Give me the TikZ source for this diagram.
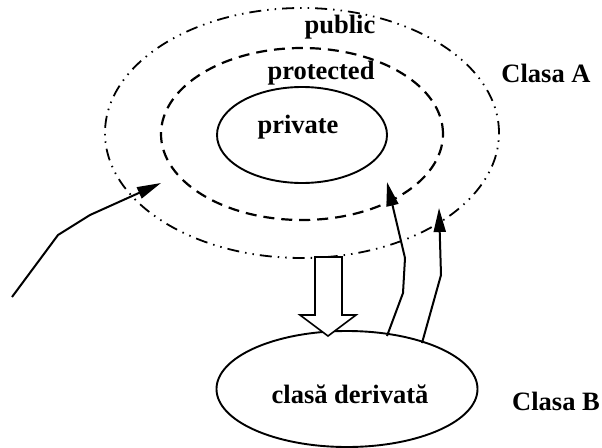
\documentclass[tikz,border=0pt]{standalone}
\usepackage{fontspec}
\setmainfont{Liberation Serif}
\usetikzlibrary{arrows.meta,shapes.geometric}
\begin{document}
\begin{tikzpicture}[x=1pt,y=-1pt,
  lbl/.style={font=\fontsize{26.5}{29}\selectfont\bfseries, inner sep=0pt},
  ring/.style={draw, ellipse, inner sep=0pt},
  outerring/.style={ring, line width=1.8pt, dash pattern=on 12pt off 6pt on 1.5pt off 6pt on 1.5pt off 6pt},
  midring/.style={ring, line width=2.2pt, dash pattern=on 11pt off 7pt},
  solidring/.style={ring, line width=1.9pt},
  link/.style={line width=2pt, -{Triangle[length=24pt,width=12pt]}},
]
\useasboundingbox (0,0) rectangle (602,447);
\node[outerring, minimum width=394pt, minimum height=250pt] (outer) at (302,133) {};
\node[midring, minimum width=282pt, minimum height=172pt] (mid) at (302,134) {};
\node[solidring, minimum width=170pt, minimum height=96pt] (inner) at (302,135) {};
\node[solidring, minimum width=261pt, minimum height=116pt] (der) at (347,389) {};

\node[lbl] (pub) at (340,27) {public};
\node[lbl] (prot) at (321,73) {protected};
\node[lbl] (priv) at (298,127) {private};
\node[lbl] (ca) at (546,73) {Clasa A};
\node[lbl] (cb) at (556,401) {Clasa B};
\node[lbl] (cd) at (350,394) {clasă derivată};

% hollow inheritance arrow
\coordinate (h1) at (315,257);
\coordinate (h2) at (342,257);
\coordinate (h3) at (342,315);
\coordinate (h4) at (356,315);
\coordinate (h5) at (328,336);
\coordinate (h6) at (300,315);
\coordinate (h7) at (315,315);
\draw[line width=1.6pt, fill=white] (h1) -- (h2) -- (h3) -- (h4) -- (h5) -- (h6) -- (h7) -- cycle;

% left access arrow
\coordinate (l0) at (12,297);
\coordinate (l1) at (58,235);
\coordinate (l2) at (90,215);
\coordinate (l3) at (161,183);
\draw[link] (l0) -- (l1) -- (l2) -- (l3);

% derived class access arrows
\coordinate (a0) at (387,336);
\coordinate (a1) at (403,293);
\coordinate (a2) at (405,258);
\coordinate (a3) at (387,182);
\draw[link] (a0) -- (a1) -- (a2) -- (a3);

\coordinate (b0) at (422,343);
\coordinate (b1) at (441,275);
\coordinate (b2) at (439,208);
\draw[link] (b0) -- (b1) -- (b2);
\end{tikzpicture}
\end{document}
